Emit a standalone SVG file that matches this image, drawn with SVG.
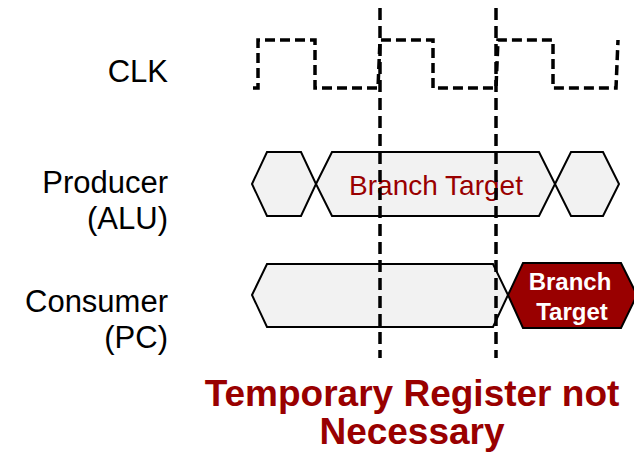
<svg xmlns="http://www.w3.org/2000/svg" width="634" height="456" viewBox="0 0 634 456">
<style>
.lbl{font-family:"Liberation Sans",Arial,sans-serif;font-size:31px;fill:#000;text-anchor:end}
.bus{fill:#f2f2f2;stroke:#000;stroke-width:2}
.red{fill:#990000;stroke:#000;stroke-width:2}
.clk{fill:none;stroke:#000;stroke-width:3.5;stroke-dasharray:10 5}
.edge{fill:none;stroke:#000;stroke-width:3.5;stroke-dasharray:12 6}
.t1{font-family:"Liberation Sans",Arial,sans-serif;font-size:28px;fill:#990000;text-anchor:middle}
.t2{font-family:"Liberation Sans",Arial,sans-serif;font-size:24px;font-weight:bold;fill:#fff;text-anchor:middle}
.t3{font-family:"Liberation Sans",Arial,sans-serif;font-size:37px;font-weight:bold;fill:#990000;text-anchor:middle}
</style>
<rect width="634" height="456" fill="#fff"/>
<g id="labels">
<text class="lbl" x="168" y="82">CLK</text>
<text class="lbl" x="168" y="193">Producer</text>
<text class="lbl" x="168" y="229">(ALU)</text>
<text class="lbl" x="168" y="312">Consumer</text>
<text class="lbl" x="168" y="348">(PC)</text>
</g>
<g id="clock">
<path class="clk" d="M253,88 L258,88 L258,40 L315,40 L315,88 L378,88 L380,40 L433,40 L433,88 L496,88 L498,40 L553,40 L553,88 L616,88 L618,40"/>
</g>
<g id="producer">
<polygon class="bus" points="252,184 267,152 301,152 316,184 301,216 267,216"/>
<polygon class="bus" points="316,184 332,152 539,152 555,184 539,216 332,216"/>
<polygon class="bus" points="555,184 571,152 603,152 619,184 603,216 571,216"/>
<text class="t1" x="436" y="195">Branch Target</text>
</g>
<g id="consumer">
<polygon class="bus" points="252,295 267,264 493,264 508,295 493,327 267,327"/>
<polygon class="red" points="508,295 523,263 621,263 637,295 621,328 523,328"/>
<text class="t2" x="570" y="290">Branch</text>
<text class="t2" x="572" y="320">Target</text>
</g>
<g id="connectors">
<line class="edge" x1="380" y1="8" x2="380" y2="358"/>
<line class="edge" x1="496" y1="8" x2="496" y2="358"/>
</g>
<g id="caption">
<text class="t3" x="412" y="406">Temporary Register not</text>
<text class="t3" x="412" y="444">Necessary</text>
</g>
</svg>
